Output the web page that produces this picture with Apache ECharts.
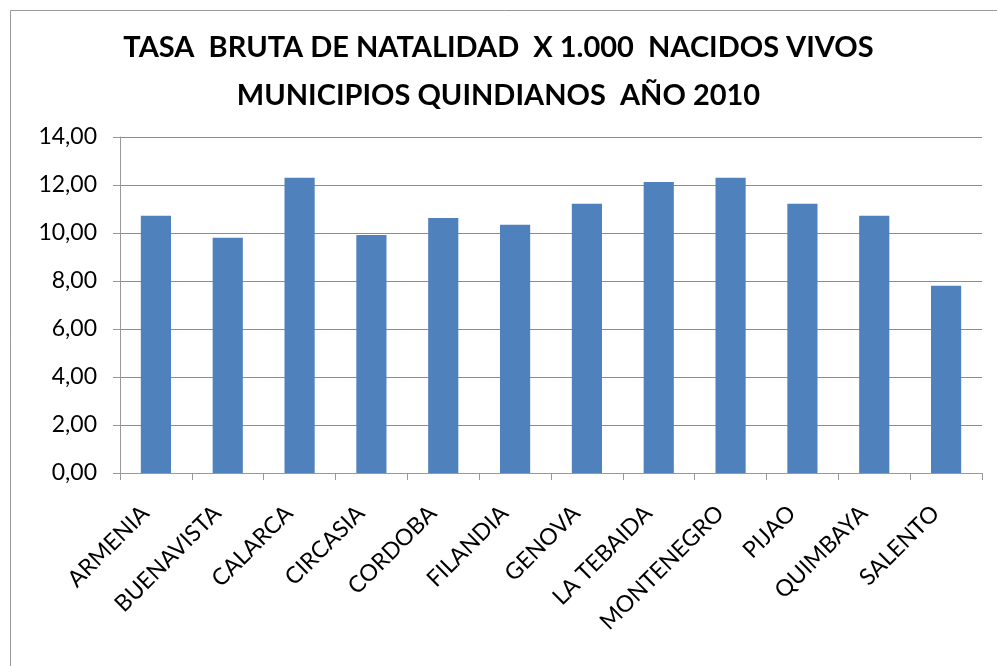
<!DOCTYPE html>
<html>
<head>
<meta charset="utf-8">
<script src="https://cdn.jsdelivr.net/npm/echarts@6/dist/echarts.min.js"></script>
<style>
html,body{margin:0;padding:0;background:#fff;}
#chart{width:997px;height:666px;}
</style>
</head>
<body>
<div id="chart"></div>
<script>
const titleLines = ['TASA  BRUTA DE NATALIDAD  X 1.000  NACIDOS VIVOS', 'MUNICIPIOS QUINDIANOS  AÑO 2010'];
const categories = ['ARMENIA','BUENAVISTA','CALARCA','CIRCASIA','CORDOBA','FILANDIA','GENOVA','LA TEBAIDA','MONTENEGRO','PIJAO','QUIMBAYA','SALENTO'];
const values = [10.72, 9.80, 12.30, 9.92, 10.63, 10.34, 11.22, 12.13, 12.30, 11.22, 10.72, 7.80];
const yTicks = [0, 2, 4, 6, 8, 10, 12, 14];

const chart = echarts.init(document.getElementById('chart'));
const font = 'Lato, "Open Sans", sans-serif';
chart.setOption({
  animation: false,
  backgroundColor: '#fff',
  title: {
    text: titleLines.join('\n'),
    left: 'center',
    top: 19,
    textStyle: { fontFamily: font, fontWeight: 'bold', fontSize: 29, color: '#000', lineHeight: 48 }
  },
  graphic: [{
    type: 'rect',
    shape: { x: 10.5, y: 10.5, width: 1000, height: 700 },
    style: { fill: 'none', stroke: '#999', lineWidth: 1 },
    silent: true
  }],
  grid: { left: 120, right: 15, top: 137, bottom: 193, containLabel: false },
  xAxis: {
    type: 'category',
    data: categories,
    axisLine: { lineStyle: { color: '#999', width: 1 } },
    axisTick: { show: true, alignWithLabel: false, length: 7, lineStyle: { color: '#999' } },
    axisLabel: { rotate: 45, interval: 0, margin: 26, padding: [0, 15, 0, 0], fontFamily: font, fontSize: 23, color: '#000' }
  },
  yAxis: {
    type: 'value',
    min: yTicks[0],
    max: yTicks[yTicks.length - 1],
    interval: 2,
    axisLine: { show: true, lineStyle: { color: '#999', width: 1 } },
    axisTick: { show: true, length: 7, lineStyle: { color: '#999' } },
    splitLine: { lineStyle: { color: '#8c8c8c', width: 1 } },
    axisLabel: {
      margin: 23, fontFamily: font, fontSize: 23, color: '#000',
      formatter: v => v.toFixed(2).replace('.', ',')
    }
  },
  series: [{
    type: 'bar',
    data: values,
    barWidth: '42%',
    itemStyle: { color: '#4F81BD' }
  }]
});
</script>
</body>
</html>
